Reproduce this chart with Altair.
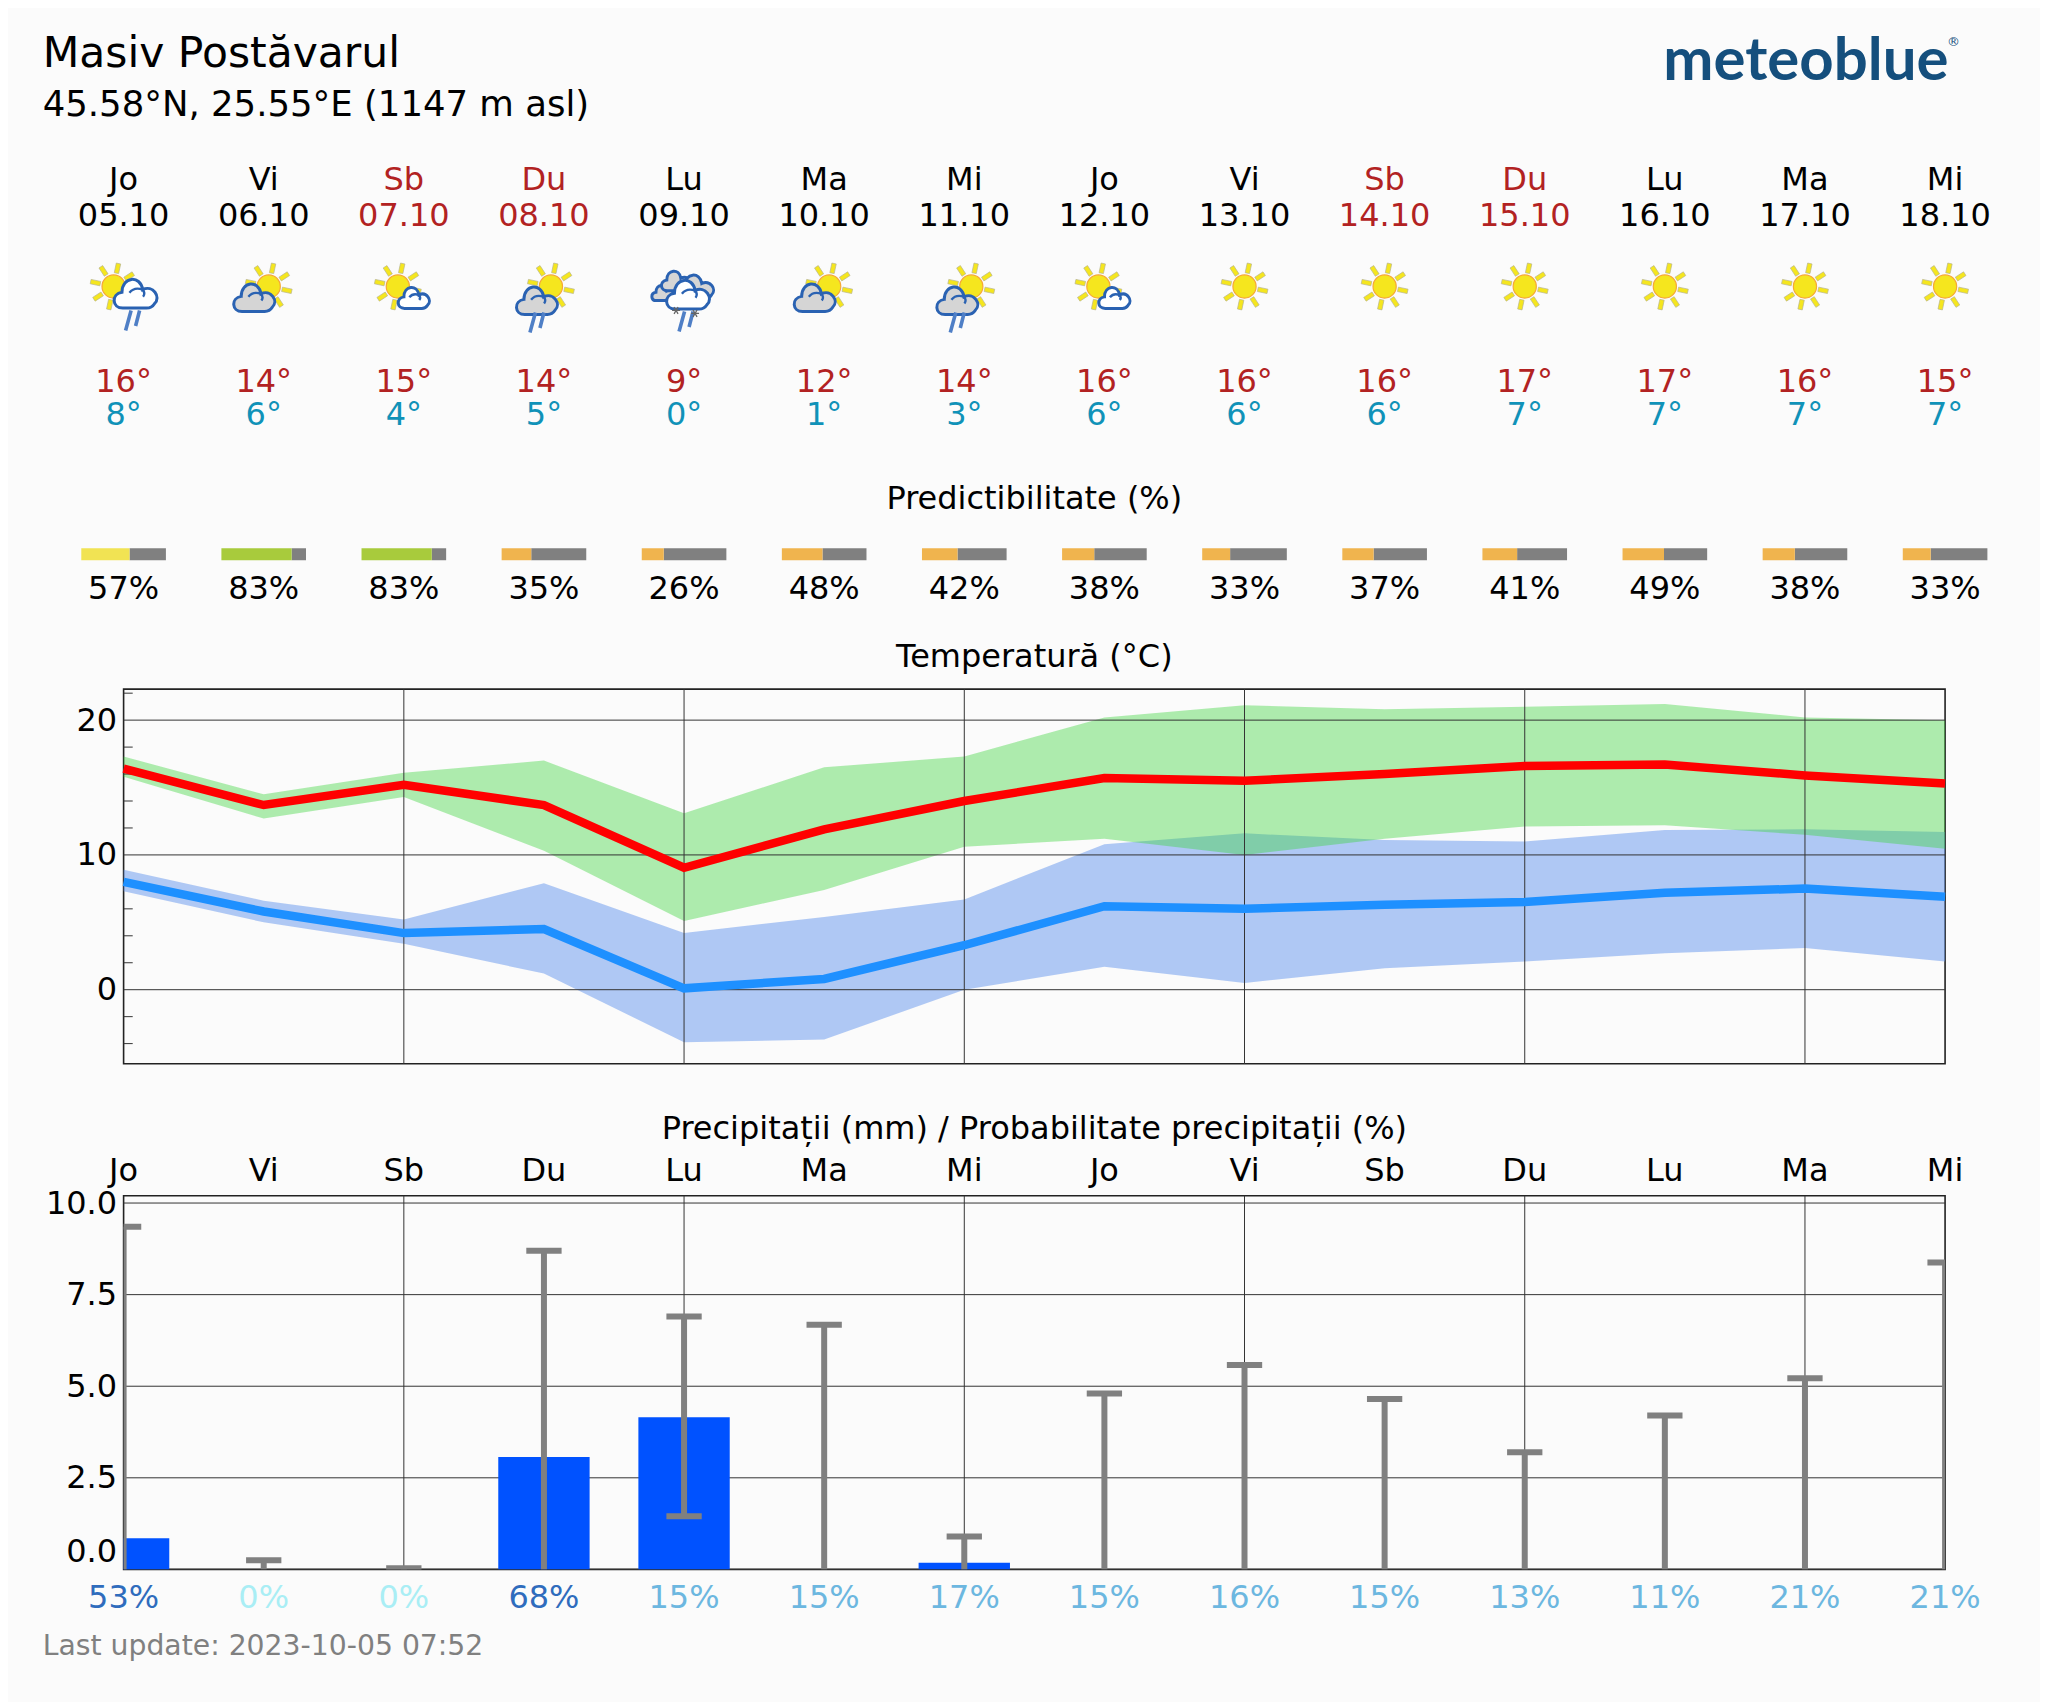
import math
import altair as alt
import pandas as pd

FONT = "DejaVu Sans"
BG = "#fbfbfb"
PLACE = "Masiv Postăvarul"
COORDS = "45.58°N, 25.55°E (1147 m asl)"
UPDATED = "Last update: 2023-10-05 07:52"

days = ["Jo", "Vi", "Sb", "Du", "Lu", "Ma", "Mi", "Jo", "Vi", "Sb", "Du", "Lu", "Ma", "Mi"]
dates = ["05.10", "06.10", "07.10", "08.10", "09.10", "10.10", "11.10", "12.10", "13.10", "14.10", "15.10", "16.10", "17.10", "18.10"]
tmax_label = [16, 14, 15, 14, 9, 12, 14, 16, 16, 16, 17, 17, 16, 15]
tmin_label = [8, 6, 4, 5, 0, 1, 3, 6, 6, 6, 7, 7, 7, 7]
predict = [57, 83, 83, 35, 26, 48, 42, 38, 33, 37, 41, 49, 38, 33]
icons = ["sun_rain", "sun_grey", "sun_small", "grey_rain", "storm", "sun_grey", "grey_rain", "sun_small",
         "sun", "sun", "sun", "sun", "sun", "sun"]

t_max = [16.4, 13.7, 15.2, 13.7, 9.05, 11.9, 14.0, 15.7, 15.5, 16.0, 16.6, 16.7, 15.9, 15.3]
t_max_hi = [17.3, 14.5, 16.1, 17.0, 13.1, 16.5, 17.3, 20.2, 21.1, 20.8, 21.0, 21.2, 20.2, 20.0]
t_max_lo = [15.8, 12.7, 14.3, 10.3, 5.1, 7.4, 10.6, 11.2, 10.0, 11.2, 12.1, 12.2, 11.5, 10.45]
t_min = [8.0, 5.8, 4.2, 4.5, 0.1, 0.8, 3.3, 6.2, 6.0, 6.3, 6.5, 7.2, 7.5, 6.9]
t_min_hi = [8.9, 6.6, 5.2, 7.9, 4.2, 5.4, 6.7, 10.8, 11.6, 11.1, 11.0, 11.85, 11.9, 11.7]
t_min_lo = [7.3, 5.0, 3.4, 1.2, -3.9, -3.7, 0.0, 1.7, 0.5, 1.6, 2.1, 2.7, 3.1, 2.1]

rain = [0.85, 0.0, 0.0, 3.07, 4.15, 0.0, 0.18, 0.0, 0.0, 0.0, 0.0, 0.0, 0.0, 0.0]
rain_hi = [9.35, 0.25, 0.03, 8.7, 6.9, 6.68, 0.9, 4.8, 5.58, 4.65, 3.2, 4.2, 5.22, 8.38]
rain_lo = [0, 0, 0, 0, 1.45, 0, 0, 0, 0, 0, 0, 0, 0, 0]
rain_prob = [53, 0, 0, 68, 15, 15, 17, 15, 16, 15, 13, 11, 21, 21]

temp_major = [0, 10, 20]
temp_minor = [-4, -2, 2, 4, 6, 8, 12, 14, 16, 18, 22]
rain_major = [0.0, 2.5, 5.0, 7.5, 10.0]
x_grid = [2, 4, 6, 8, 10, 12]

WEEKEND = "#b22222"
BLACK = "#000000"
TMIN_C = "#1092b8"


def pred_color(p):
    if p >= 70:
        return "#a8cb3c"
    if p >= 50:
        return "#f1e353"
    return "#f0b44e"


def prob_color(p):
    if p == 0:
        return "#a9eef5"
    if p >= 50:
        return "#2f6cbd"
    return "#6cb7e0"


idx = list(range(14))
base = pd.DataFrame({
    "i": idx, "day": days, "date": dates,
    "tmax": [f"{v}°" for v in tmax_label], "tmin": [f"{v}°" for v in tmin_label],
    "pred": [f"{v}%" for v in predict],
    "pstart": [i - 0.302 for i in idx],
    "pmid": [i - 0.302 + 0.604 * v / 100 for i, v in zip(idx, predict)],
    "pend": [i + 0.302 for i in idx],
    "pcolor": [pred_color(v) for v in predict],
    "daycolor": [WEEKEND if d in ("Sb", "Du") else BLACK for d in days],
    "prob": [f"{v}%" for v in rain_prob],
    "probcolor": [prob_color(v) for v in rain_prob],
    "t_max": t_max, "t_max_hi": t_max_hi, "t_max_lo": t_max_lo,
    "t_min": t_min, "t_min_hi": t_min_hi, "t_min_lo": t_min_lo,
    "rain": rain, "rain_hi": rain_hi, "rain_lo": rain_lo,
    "bar_l": [i - 0.326 for i in idx], "bar_r": [i + 0.326 for i in idx],
    "cap_l": [i - 0.126 for i in idx], "cap_r": [i + 0.126 for i in idx],
    "zero": [0.0] * 14,
})


def XF(field):
    return alt.X(field + ":Q", scale=alt.Scale(domain=[0, 13], nice=False, zero=False), axis=None)


X = XF("i")
W = 1823


def text_row(field, y, size=32, color=None, data=base):
    enc = {"x": X, "y": alt.value(y), "text": alt.Text(field + ":N")}
    if color:
        enc["color"] = alt.Color(color + ":N", scale=None)
    else:
        enc["color"] = alt.value(BLACK)
    return alt.Chart(data).mark_text(font=FONT, fontSize=size, baseline="middle", align="center").encode(**enc)


def fixed_text(txt, x, y, size, color=BLACK, weight="normal", font=FONT, align="left", baseline="middle"):
    return alt.Chart(pd.DataFrame({"t": [txt]})).mark_text(
        font=font, fontSize=size, fontWeight=weight, align=align, baseline=baseline, color=color
    ).encode(x=alt.value(x), y=alt.value(y), text="t:N")


# --- icon shapes (unit paths, scaled by the symbol size) ---
def sun_rays_path():
    parts = []
    for k in range(8):
        a = math.radians(12 + 45 * k)
        ux, uy = math.sin(a), -math.cos(a)
        px, py = math.cos(a), math.sin(a)
        r0, r1, w = 0.58, 1.0, 0.095
        pts = [(ux * r0 - px * w, uy * r0 - py * w), (ux * r1 - px * w, uy * r1 - py * w),
               (ux * r1 + px * w, uy * r1 + py * w), (ux * r0 + px * w, uy * r0 + py * w)]
        parts.append("M" + "L".join(f"{a_:.3f},{b_:.3f}" for a_, b_ in pts) + "Z")
    return "".join(parts)


DISC = "M-1,0A1,1 0 1 1 1,0A1,1 0 1 1 -1,0Z"
CLOUD = ("M-0.58,0.62C-1.08,0.62 -1.12,-0.02 -0.62,-0.1C-0.62,-0.82 0.22,-0.9 0.32,-0.22"
         "C0.78,-0.46 1.18,0.12 0.86,0.42C0.76,0.58 0.62,0.62 0.5,0.62Z")
CURL = "M-0.28,-0.08C-0.12,-0.28 0.1,-0.3 0.32,-0.22C0.42,-0.1 0.42,0 0.34,0.1"
RAIN = "M-0.7,1L-0.15,-1M0.3,0.55L0.7,-1"
SNOW = "M-1,0L1,0M-0.5,-0.87L0.5,0.87M-0.5,0.87L0.5,-0.87"


def piece(which, shape, half, dx, y, fill=None, stroke=None, sw=0.0):
    sub = base[[ic in which for ic in icons]]
    kw = dict(shape=shape, size=(2 * half) ** 2, opacity=1, xOffset=dx, yOffset=0)
    if fill:
        kw.update(filled=True, fill=fill)
    else:
        kw.update(filled=False, fill="transparent")
    if stroke:
        kw.update(stroke=stroke, strokeWidth=sw)
    else:
        kw.update(strokeWidth=0)
    return alt.Chart(sub).mark_point(**kw).encode(x=X, y=alt.value(y))


BLUE = "#2a62b2"
RAINC = "#4f7fc6"
YEL = "#f5e61e"
RAYS = sun_rays_path()


def sun(which, dx, y=277):
    return [piece(which, RAYS, 23.5, dx, y, fill=YEL, stroke="#b8b48c", sw=0.7),
            piece(which, DISC, 11.6, dx, y, fill=YEL, stroke="#f6a835", sw=1.2)]


def cloud(which, dx, y, half, fill, curl=True):
    out = [piece(which, CLOUD, half, dx, y, fill=fill, stroke=BLUE, sw=3)]
    if curl:
        out.append(piece(which, CURL, half, dx, y, stroke=BLUE, sw=2.4))
    return out


icon_layers = []
icon_layers += sun(["sun"], 0)
icon_layers += sun(["sun_rain"], -10) + cloud(["sun_rain"], 12, 285, 22, "#ffffff")
icon_layers += [piece(["sun_rain"], RAIN, 10, 9, 311, stroke=RAINC, sw=3.6)]
icon_layers += sun(["sun_grey"], 5) + cloud(["sun_grey"], -9.5, 289, 21, "#d5d5d5")
icon_layers += sun(["sun_small"], -6) + cloud(["sun_small"], 10, 289, 16, "#ffffff")
icon_layers += sun(["grey_rain"], 7) + cloud(["grey_rain"], -7, 292, 21, "#d5d5d5")
icon_layers += [piece(["grey_rain"], RAIN, 10, -7, 313, stroke=RAINC, sw=3.6)]
icon_layers += cloud(["storm"], -21, 284, 11.5, "#d5d5d5", curl=False)
icon_layers += cloud(["storm"], -8, 272, 15, "#d5d5d5", curl=False)
icon_layers += cloud(["storm"], 12, 278, 18, "#d5d5d5", curl=False)
icon_layers += cloud(["storm"], 4, 286, 22, "#ffffff")
icon_layers += [piece(["storm"], RAIN, 10, 2, 312, stroke=RAINC, sw=3.6)]
icon_layers += [piece(["storm"], SNOW, 4, -8, 301, stroke="#666666", sw=1.3)]
icon_layers += [piece(["storm"], SNOW, 4, 11, 304, stroke="#666666", sw=1.3)]

# --- header panel ---
header = alt.layer(
    fixed_text(PLACE, -81, 44, 42.5),
    fixed_text(COORDS, -81, 95, 35.5),
    fixed_text("meteoblue", 1541, 70, 60, color="#154f7d", weight="bold", font="Lato", baseline="alphabetic"),
    fixed_text("®", 1825, 32, 13, color="#154f7d"),
    text_row("day", 170.5, color="daycolor"),
    text_row("date", 206, color="daycolor"),
    *icon_layers,
    text_row("tmax", 373).encode(color=alt.value(WEEKEND)),
    text_row("tmin", 406).encode(color=alt.value(TMIN_C)),
    alt.Chart(pd.DataFrame({"t": ["Predictibilitate (%)"], "i": [6.5]})).mark_text(
        font=FONT, fontSize=32, baseline="middle", color=BLACK).encode(x=X, y=alt.value(490), text="t:N"),
    alt.Chart(base).mark_rect(color="#808080").encode(x=XF("pmid"), x2="pend:Q", y=alt.value(539), y2=alt.value(551)),
    alt.Chart(base).mark_rect().encode(x=XF("pstart"), x2="pmid:Q", y=alt.value(539), y2=alt.value(551),
                                       color=alt.Color("pcolor:N", scale=None)),
    text_row("pred", 580),
).properties(width=W, height=548, view=alt.ViewConfig(stroke="transparent"))

# --- temperature panel ---
T_SCALE = alt.Scale(domain=[-5.5, 22.3], nice=False, zero=False)
GRID = "#333333"


def vgrid():
    return alt.Chart(pd.DataFrame({"i": x_grid})).mark_rule(color=GRID, strokeWidth=1).encode(x=X)


def band(lo, hi, color, op):
    return alt.Chart(base).mark_area(color=color, opacity=op).encode(
        x=X, y=alt.Y(lo + ":Q", scale=T_SCALE, axis=None), y2=hi + ":Q")


def tline(field, color):
    return alt.Chart(base).mark_line(color=color, strokeWidth=8.5, strokeJoin="miter").encode(
        x=X, y=alt.Y(field + ":Q", scale=T_SCALE, axis=None))


temp_axis = alt.Chart(pd.DataFrame({"v": temp_major})).mark_rule(color=GRID, strokeWidth=1).encode(
    y=alt.Y("v:Q", scale=T_SCALE, axis=alt.Axis(
        values=temp_major, title=None, ticks=False, domain=False, grid=False, labelFont=FONT,
        labelFontSize=32, labelColor=BLACK, labelPadding=7, format="d")))
temp_minor_ticks = alt.Chart(pd.DataFrame({"v": temp_minor, "a": [0.0] * 11, "b": [0.065] * 11})).mark_rule(
    color=GRID, strokeWidth=1).encode(x=XF("a"), x2="b:Q", y=alt.Y("v:Q", scale=T_SCALE, axis=None))

temp = alt.layer(
    band("t_min_lo", "t_min_hi", "#6495ed", 0.5),
    band("t_max_lo", "t_max_hi", "#3ad53a", 0.4),
    vgrid(),
    temp_axis,
    temp_minor_ticks,
    tline("t_max", "#ff0000"),
    tline("t_min", "#1e90ff"),
).resolve_axis(y="independent").properties(
    width=W, height=375,
    title=alt.TitleParams("Temperatură (°C)", font=FONT, fontSize=32, fontWeight="normal", color=BLACK,
                          anchor="middle", offset=15),
    view=alt.ViewConfig(stroke="#222222", strokeWidth=1.6),
)

# --- precipitation panel ---
R_SCALE = alt.Scale(domain=[0, 10.2], nice=False, zero=False)
R_Y = alt.Y("v:Q", scale=R_SCALE, axis=alt.Axis(
    values=rain_major, title=None, ticks=False, domain=False, grid=False, labelFont=FONT,
    labelFontSize=32, labelColor=BLACK, labelPadding=7, format=".1f",
    labelOffset={"condition": {"test": "datum.value === 0", "value": -18}, "value": 0}))

err = base.copy()
precip = alt.layer(
    vgrid(),
    alt.Chart(pd.DataFrame({"v": rain_major})).mark_rule(color=GRID, strokeWidth=1).encode(y=R_Y),
    alt.Chart(base[base.rain > 0]).mark_rect(color="#0052ff", clip=True).encode(
        x=XF("bar_l"), x2="bar_r:Q", y=alt.Y("rain:Q", scale=R_SCALE, axis=None), y2="zero:Q"),
    alt.Chart(err).mark_rule(color="#808080", strokeWidth=6, clip=True).encode(
        x=X, y=alt.Y("rain_lo:Q", scale=R_SCALE, axis=None), y2="rain_hi:Q"),
    alt.Chart(err).mark_rule(color="#808080", strokeWidth=6, clip=True).encode(
        x=XF("cap_l"), x2="cap_r:Q", y=alt.Y("rain_hi:Q", scale=R_SCALE, axis=None)),
    alt.Chart(err[err.rain_lo > 0]).mark_rule(color="#808080", strokeWidth=6, clip=True).encode(
        x=XF("cap_l"), x2="cap_r:Q", y=alt.Y("rain_lo:Q", scale=R_SCALE, axis=None)),
    text_row("day", -25),
    text_row("prob", 402.5, color="probcolor"),
    fixed_text(UPDATED, -81, 451.5, 28.3, color="#808080"),
).resolve_axis(y="independent").properties(
    width=W, height=374,
    title=alt.TitleParams("Precipitații (mm) / Probabilitate precipitații (%)", font=FONT, fontSize=32,
                          fontWeight="normal", color=BLACK, anchor="middle", offset=9),
    view=alt.ViewConfig(stroke="#222222", strokeWidth=1.6),
)

chart = alt.vconcat(header, temp, precip, spacing=132, bounds="flush").resolve_scale(
    x="independent", y="independent"
).properties(
    background=BG,
    padding={"left": 33.7, "top": 0, "right": 48, "bottom": 40},
)

chart.save("out.html", embed_options={"renderer": "svg", "actions": False})
